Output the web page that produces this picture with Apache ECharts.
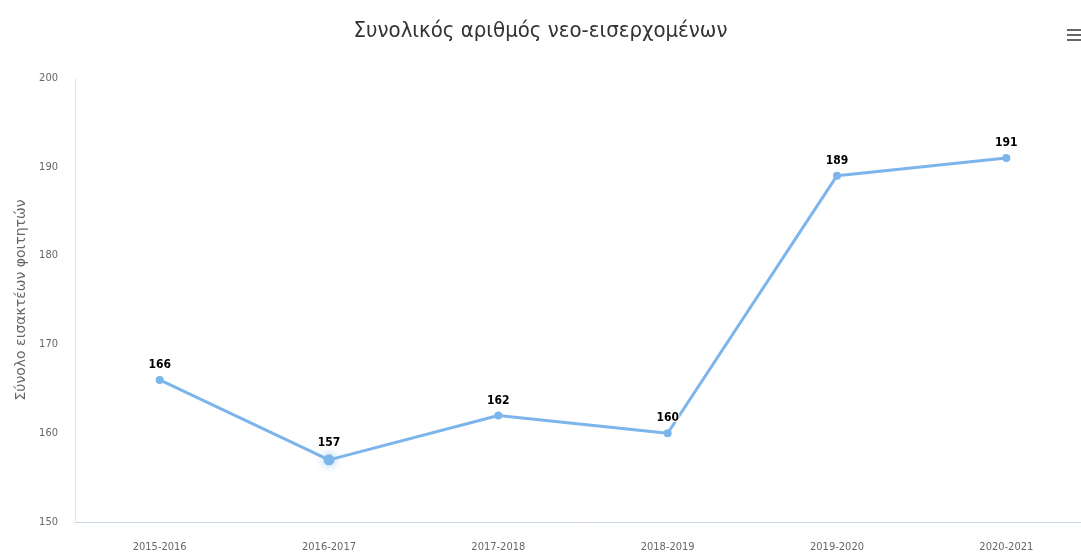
<!DOCTYPE html>
<html>
<head>
<meta charset="utf-8">
<script src="https://cdn.jsdelivr.net/npm/echarts@6/dist/echarts.min.js"></script>
<style>html,body{margin:0;padding:0;background:#fff}#c{width:1081px;height:553px}</style>
</head>
<body>
<div id="c"></div>
<script>
var titleText = 'Συνολικός αριθμός νεο-εισερχομένων';
var yAxisName = 'Σύνολο εισακτέων φοιτητών';
var categories = ['2015-2016', '2016-2017', '2017-2018', '2018-2019', '2019-2020', '2020-2021'];
var values = [166, 157, 162, 160, 189, 191];
var yTicks = {min: 150, max: 200, interval: 10};

var chart = echarts.init(document.getElementById('c'));
var seriesData = values.map(function (v, i) {
  if (i === 1) {
    return {value: v, symbolSize: 11, itemStyle: {color: '#7cb5ec', shadowBlur: 10, shadowColor: 'rgba(124,181,236,0.8)'}};
  }
  return v;
});
chart.setOption({
  animation: false,
  title: {
    text: titleText, left: 'center', top: 15,
    textStyle: {fontFamily: 'DejaVu Sans Condensed', fontSize: 22, fontWeight: 'normal', color: '#333'}
  },
  grid: {left: 75, width: 1016, top: 78, bottom: 31, outerBoundsMode: 'none', containLabel: false},
  xAxis: {
    type: 'category', data: categories, boundaryGap: true,
    axisLine: {lineStyle: {color: '#ccd6eb'}},
    axisTick: {show: false},
    axisLabel: {color: '#666', fontSize: 11, fontFamily: 'DejaVu Sans Condensed', margin: 20}
  },
  yAxis: {
    type: 'value', min: yTicks.min, max: yTicks.max, interval: yTicks.interval,
    name: yAxisName, nameLocation: 'middle', nameGap: 45, nameRotate: 90,
    nameTextStyle: {color: '#666', fontSize: 14, fontFamily: 'DejaVu Sans'},
    axisLine: {show: true, lineStyle: {color: '#e6e6e6'}},
    axisTick: {show: false},
    splitLine: {show: false},
    axisLabel: {color: '#666', fontSize: 11, fontFamily: 'DejaVu Sans Condensed', margin: 17}
  },
  graphic: [
    {type: 'rect', shape: {x: 1067, y: 29, width: 14, height: 2}, style: {fill: '#666'}},
    {type: 'rect', shape: {x: 1067, y: 34, width: 14, height: 2}, style: {fill: '#666'}},
    {type: 'rect', shape: {x: 1067, y: 39, width: 14, height: 2}, style: {fill: '#666'}}
  ],
  series: [{
    type: 'line', data: seriesData,
    symbol: 'circle', symbolSize: 8,
    lineStyle: {color: '#7cb5ec', width: 3},
    itemStyle: {color: '#7cb5ec'},
    label: {
      show: true, position: 'top', distance: 5,
      fontSize: 12, fontWeight: 'bold', color: '#000',
      fontFamily: 'DejaVu Sans Condensed',
      textBorderColor: '#fff', textBorderWidth: 2
    }
  }]
});
</script>
</body>
</html>
